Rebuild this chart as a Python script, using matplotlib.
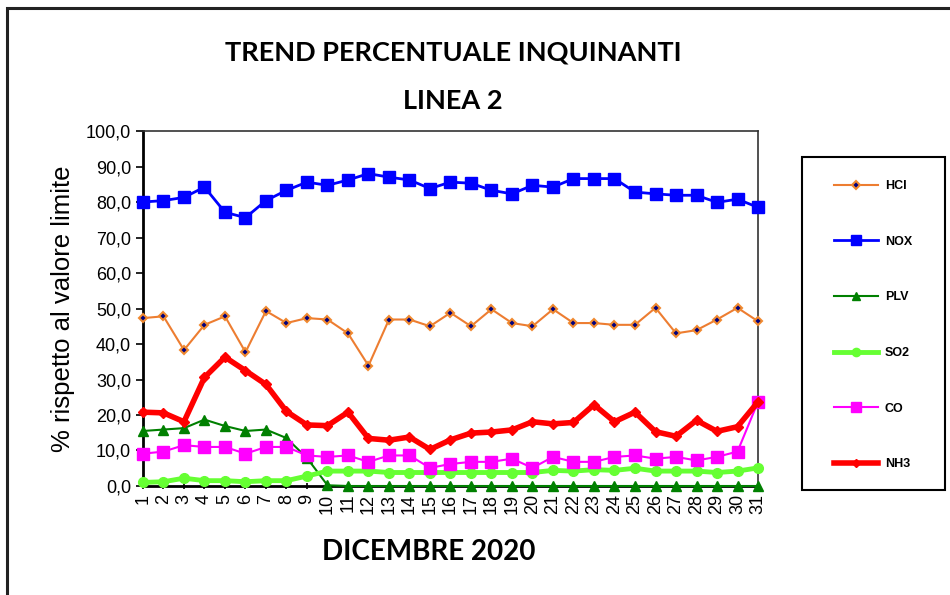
import numpy as np
import matplotlib
matplotlib.use("Agg")
import matplotlib.pyplot as plt
from matplotlib.patches import Rectangle
from matplotlib.ticker import FuncFormatter

# %% dati (dicembre 2020, % rispetto al valore limite)
giorni = list(range(1, 32))

hcl = [47.3, 47.8, 38.3, 45.4, 47.8, 37.7, 49.3, 45.9, 47.3, 46.9, 43.0, 33.9, 46.9, 46.9, 45.0, 48.8,
       45.0, 49.8, 45.9, 45.0, 49.8, 45.9, 45.9, 45.4, 45.4, 50.2, 43.0, 43.9, 46.9, 50.2, 46.4]
nox = [80.0, 80.4, 81.3, 84.2, 77.1, 75.6, 80.4, 83.3, 85.6, 84.7, 86.2, 88.0, 87.0, 86.2, 83.8, 85.6,
       85.3, 83.3, 82.3, 84.7, 84.2, 86.6, 86.6, 86.6, 82.8, 82.3, 81.9, 81.9, 79.9, 80.8, 78.5]
plv = [15.5, 15.9, 16.3, 18.7, 16.9, 15.5, 15.9, 13.5, 7.9, 0.2, 0.0, 0.0, 0.0, 0.0, 0.0, 0.0,
       0.0, 0.0, 0.0, 0.0, 0.0, 0.0, 0.0, 0.0, 0.0, 0.0, 0.0, 0.0, 0.0, 0.0, 0.0]
so2 = [1.0, 1.2, 2.2, 1.5, 1.5, 1.2, 1.5, 1.5, 2.8, 4.2, 4.2, 4.2, 3.8, 3.8, 3.8, 3.8,
       3.8, 3.8, 3.8, 3.8, 4.4, 4.2, 4.6, 4.4, 5.0, 4.2, 4.2, 4.2, 3.8, 4.2, 5.1]
co = [9.1, 9.7, 11.5, 11.0, 11.0, 9.1, 11.0, 11.0, 8.6, 8.2, 8.6, 6.8, 8.6, 8.6, 5.1, 6.2,
      6.8, 6.8, 7.7, 5.1, 8.2, 6.8, 6.8, 8.2, 8.6, 7.7, 8.2, 7.2, 8.2, 9.7, 23.7]
nh3 = [20.8, 20.6, 18.1, 30.6, 36.3, 32.5, 28.6, 21.0, 17.2, 17.0, 20.8, 13.4, 12.9, 13.8, 10.3, 13.0,
       14.9, 15.2, 15.8, 18.1, 17.5, 17.9, 22.9, 18.1, 20.8, 15.3, 14.0, 18.5, 15.4, 16.7, 23.7]

# %% grafico
plt.rcParams['font.family'] = ['Liberation Sans', 'DejaVu Sans']
fig = plt.figure(figsize=(9.5, 5.95), dpi=100)
ax = fig.add_axes([0.1505, 0.1832, 0.6474, 0.5966])

ax.plot(giorni, hcl, color='#ed7d31', lw=1.5, marker='D', ms=4.5, mfc='#000080', mec='#f08a30',
        mew=1.5, label='HCI', clip_on=False, zorder=3)
ax.plot(giorni, nox, color='#0000ff', lw=2, marker='s', ms=8, mfc='#0000ff', mec='#0000ff',
        label='NOX', clip_on=False, zorder=3)
ax.plot(giorni, plv, color='#008000', lw=1.5, marker='^', ms=7, mfc='#008000', mec='#008000',
        label='PLV', clip_on=False, zorder=3)
ax.plot(giorni, so2, color='#66ff33', lw=3.5, marker='o', ms=7, mfc='#66ff33', mec='#66ff33',
        label='SO2', clip_on=False, zorder=3)
ax.plot(giorni, co, color='#ff00ff', lw=1.5, marker='s', ms=8, mfc='#ff00ff', mec='#ff00ff',
        label='CO', clip_on=False, zorder=3)
ax.plot(giorni, nh3, color='#ff0000', lw=4, marker='D', ms=5, mfc='#ff0000', mec='#ff0000',
        label='NH3', clip_on=False, zorder=3)

ax.set_xlim(1, 31)
ax.set_ylim(0, 100)
ax.set_yticks(np.arange(0, 101, 10))
ax.yaxis.set_major_formatter(FuncFormatter(lambda v, p: f"{v:.1f}".replace('.', ',')))
ax.set_xticks(giorni)
ax.set_xticklabels([str(g) for g in giorni], rotation=90, fontsize=13)
ax.tick_params(axis='y', labelsize=13, length=5, width=1.2, direction='out')
ax.tick_params(axis='x', length=5, width=1.2, direction='inout', pad=3)

for s in ['left', 'bottom']:
    ax.spines[s].set_linewidth(2)
    ax.spines[s].set_color('black')
for s in ['top', 'right']:
    ax.spines[s].set_linewidth(1.2)
    ax.spines[s].set_color('#333333')

ax.set_ylabel('% rispetto al valore limite', fontsize=18.5, labelpad=8)

fig.text(0.477, 0.912, 'TREND PERCENTUALE INQUINANTI', ha='center', va='center',
         fontsize=19.5, fontweight='bold', family=['Lato', 'DejaVu Sans'])
fig.text(0.477, 0.831, 'LINEA 2', ha='center', va='center',
         fontsize=19.5, fontweight='bold', family=['Lato', 'DejaVu Sans'])
fig.text(0.451, 0.072, 'DICEMBRE 2020', ha='center', va='center',
         fontsize=20, fontweight='bold', family=['Lato', 'DejaVu Sans'])

# legenda senza cornice + riquadro disegnato a parte
leg = fig.legend(loc='upper left', bbox_to_anchor=(834 / 950, 1 - 180 / 595),
                 prop={'weight': 'bold', 'size': 9}, labelspacing=3.49, handlelength=3.5,
                 handletextpad=0.55, borderpad=0, borderaxespad=0, frameon=False,
                 markerscale=0.85)
fig.patches.append(Rectangle((802 / 950, 1 - 490 / 595), 143 / 950, 333 / 595,
                             transform=fig.transFigure, fill=False, edgecolor='black', lw=1.5))

# cornice esterna del grafico
fig.patches.append(Rectangle((7 / 950, -0.1), 1.2, 1.1 - 8 / 595, transform=fig.transFigure,
                             fill=False, edgecolor='#222222', lw=2.2))

fig.savefig('out.png', dpi=100)
